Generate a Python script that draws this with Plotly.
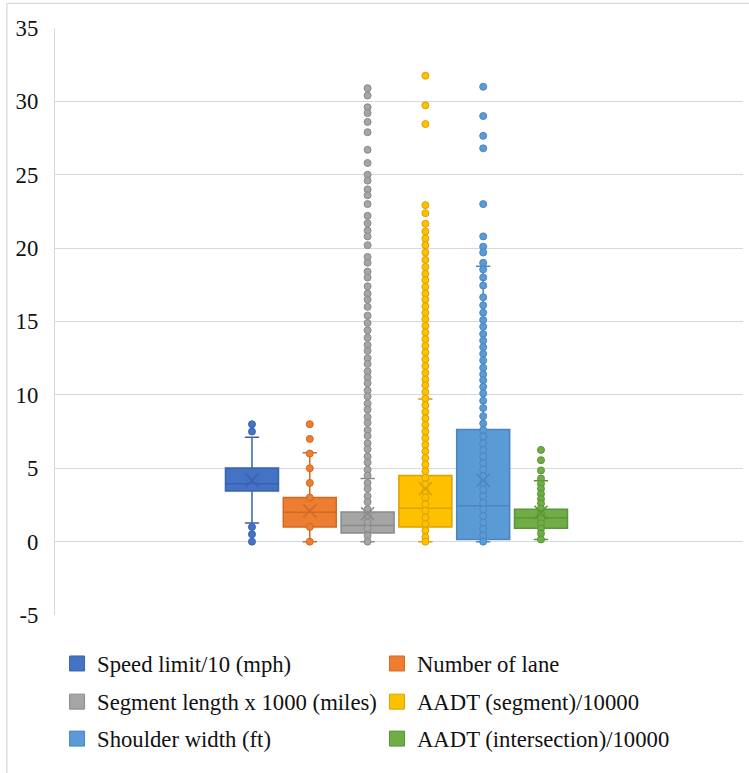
import plotly.graph_objects as go

# ---------------- data ----------------
series_names = [
    "Speed limit/10 (mph)",
    "Number of lane",
    "Segment length x 1000 (miles)",
    "AADT (segment)/10000",
    "Shoulder width (ft)",
    "AADT (intersection)/10000",
]
fill_colors = ["#4472C4", "#ED7D31", "#A5A5A5", "#FFC000", "#5B9BD5", "#70AD47"]
line_colors = ["#3A62AC", "#D06A22", "#8A8A8A", "#D8A300", "#4A86BE", "#5C9438"]

q1_vals = [3.45, 1.0, 0.58, 1.0, 0.14, 0.91]
median_vals = [3.95, 2.0, 1.1, 2.28, 2.45, 1.62]
q3_vals = [5.02, 3.0, 2.02, 4.5, 7.64, 2.2]
lower_whisker = [1.27, 0.0, 0.0, 0.0, 0.0, 0.15]
upper_whisker = [7.11, 6.05, 4.3, 9.72, 18.77, 4.15]
mean_vals = [4.18, 2.09, 1.9, 3.61, 4.18, 2.0]

speed_points = [8.0, 7.5, 1.0, 0.5, 0.0]
lane_points = [8.0, 7.0, 6.0, 5.0, 4.0, 3.0, 1.0, 0.0]
segment_points = [
    30.9, 30.4, 29.6, 29.2, 28.6, 27.9, 26.7, 25.8, 25.0, 24.6, 24.0, 23.6,
    23.0, 22.2, 21.7, 21.2, 20.8, 20.2, 19.4, 19.0, 18.4, 18.0, 17.4, 16.9,
    16.5, 16.0, 15.4, 14.9, 14.4, 13.9, 13.4, 13.0, 12.5, 12.1, 11.6, 11.2,
    10.8, 10.3, 9.9, 9.4, 9.0, 8.5, 8.1, 7.6, 7.2, 6.7, 6.3, 5.8, 5.4, 4.9,
    4.5, 4.0, 3.6, 3.1, 2.7, 2.2, 1.8, 1.3, 0.9, 0.4, 0.0,
]
aadt_seg_points = [
    31.75, 29.73, 28.45, 22.93, 22.38, 21.66, 21.14, 20.66, 20.2, 19.7, 19.2,
    18.72, 18.25, 17.82, 17.36, 16.91, 16.5, 16.04, 15.59, 15.16, 14.7, 14.25,
    13.79, 13.34, 12.89, 12.43, 11.97, 11.5, 11.05, 10.66, 10.2, 9.75, 9.3,
    8.85, 8.4, 7.95, 7.5, 7.05, 6.6, 6.15, 5.7, 5.25, 4.8, 4.35, 3.9, 3.45,
    3.0, 2.55, 2.1, 1.65, 1.2, 0.75, 0.3, 0.0,
]
shoulder_points = [
    31.0, 29.0, 27.65, 26.8, 23.0, 20.8, 20.1, 19.7, 19.0, 18.55, 18.0, 17.45,
    16.65, 16.1, 15.6, 15.1, 14.65, 14.15, 13.7, 13.25, 12.8, 12.35, 11.85,
    11.4, 11.0, 10.55, 10.1, 9.6, 9.1, 8.55, 8.05, 7.6, 7.15, 6.7, 6.25, 5.8,
    5.35, 4.9, 4.45, 4.0, 3.55, 3.1, 2.65, 2.2, 1.75, 1.3, 0.85, 0.4, 0.0,
]
aadt_int_points = [
    6.25, 5.55, 4.85, 4.3, 3.95, 3.6, 3.25, 2.9, 2.6, 2.25, 1.9, 1.55, 1.25,
    0.9, 0.55, 0.15,
]
point_lists = [speed_points, lane_points, segment_points,
               aadt_seg_points, shoulder_points, aadt_int_points]

y_ticks = [-5, 0, 5, 10, 15, 20, 25, 30, 35]
y_tick_labels = ["-5", "0", "5", "10", "15", "20", "25", "30", "35"]

# ---------------- figure ----------------
FONT = "Liberation Serif"
FSIZE = 22.7
TXT = "#111111"
GRID = "#d9d9d9"

fig = go.Figure()
positions = list(range(len(series_names)))

for i, name in enumerate(series_names):
    fig.add_trace(go.Box(
        x=[positions[i]], q1=[q1_vals[i]], median=[median_vals[i]],
        q3=[q3_vals[i]], lowerfence=[lower_whisker[i]],
        upperfence=[upper_whisker[i]],
        width=0.917, whiskerwidth=0.27,
        fillcolor=fill_colors[i],
        line=dict(color=line_colors[i], width=1.5),
        boxpoints=False, showlegend=False, hoverinfo="skip",
    ))

for i, name in enumerate(series_names):
    pts = point_lists[i]
    fig.add_trace(go.Scatter(
        x=[positions[i]] * len(pts), y=pts, mode="markers",
        marker=dict(size=7, color=fill_colors[i],
                    line=dict(color=line_colors[i], width=1)),
        showlegend=False, hoverinfo="skip",
    ))

for i, name in enumerate(series_names):
    fig.add_trace(go.Scatter(
        x=[positions[i]], y=[mean_vals[i]], mode="markers",
        marker=dict(symbol="x-thin", size=13,
                    line=dict(color=line_colors[i], width=1.6)),
        showlegend=False, hoverinfo="skip",
    ))

# legend entries: one legend per cell (2 columns x 3 rows)
legend_ids = ["legend", "legend2", "legend3", "legend4", "legend5", "legend6"]
col_x = [0.003, 0.468]
row_y = [-0.083, -0.148, -0.211]
for i, name in enumerate(series_names):
    fig.add_trace(go.Scatter(
        x=[None], y=[None], mode="markers", name=name,
        marker=dict(symbol="square", size=15, color=fill_colors[i],
                    line=dict(color=line_colors[i], width=1)),
        legend=legend_ids[i], showlegend=True,
    ))

legend_layout = {}
for i, lid in enumerate(legend_ids):
    legend_layout[lid] = dict(
        x=col_x[i % 2], y=row_y[i // 2], xanchor="left", yanchor="middle",
        orientation="h", bgcolor="rgba(0,0,0,0)", borderwidth=0,
        font=dict(family=FONT, size=FSIZE, color=TXT),
        itemsizing="trace",
    )

fig.update_layout(
    width=749, height=773,
    margin=dict(l=55, r=6, t=28, b=158, autoexpand=False),
    paper_bgcolor="white", plot_bgcolor="white",
    font=dict(family=FONT, size=FSIZE, color=TXT),
    xaxis=dict(range=[-3.408, 8.495], showgrid=False, zeroline=False,
               showticklabels=False, showline=False, ticks=""),
    yaxis=dict(range=[-5, 35], tickvals=y_ticks, ticktext=y_tick_labels,
               showgrid=True, automargin=False,
               gridcolor=GRID, gridwidth=1.3, zeroline=True,
               zerolinecolor=GRID, zerolinewidth=1.3,
               showline=True, linecolor=GRID, linewidth=1.3,
               ticks="", ticklabelstandoff=11,
               tickfont=dict(family=FONT, size=FSIZE, color=TXT)),
    shapes=[
        dict(type="line", xref="paper", yref="paper",
             x0=-0.07, x1=1.01, y0=1.042, y1=1.042,
             line=dict(color=GRID, width=1.3)),
        dict(type="line", xref="paper", yref="paper",
             x0=-0.07, x1=-0.07, y0=1.042, y1=-0.28,
             line=dict(color=GRID, width=1.3)),
    ],
    **legend_layout,
)

fig.write_html(
    "out.html",
    config={"displayModeBar": False},
    post_script="document.body.style.margin='0';document.body.style.overflow='hidden';",
)
